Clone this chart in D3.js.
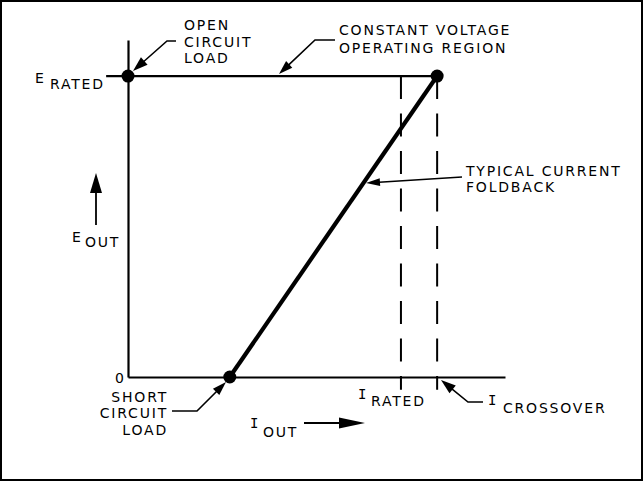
<!DOCTYPE html>
<html>
<head>
<meta charset="utf-8">
<script src="https://cdn.jsdelivr.net/npm/d3@7"></script>
<style>
  body { margin: 0; background: #fff; }
  text { font-family: 'DejaVu Sans', sans-serif; font-size: 14px; letter-spacing: 1.8px; fill: #000; }
  .sym { font-family: 'DejaVu Sans Mono', monospace; letter-spacing: 0; }
</style>
</head>
<body>
<svg id="chart" width="643" height="481"></svg>
<script>
// operating characteristic in arbitrary units (axes run 0..10)
const eRated = 8.93;
const iShort = 2.7;
const iRated = 7.24;
const iCrossover = 8.2;
const ratedLine = [[-0.58, eRated], [iCrossover, eRated]];
const foldback = [[iShort, 0], [iCrossover, eRated]];
const points = [[0, eRated], [iCrossover, eRated], [iShort, 0]];
const dashedAt = [iRated, iCrossover];
const dashedRange = [eRated, -0.38];

const width = 643, height = 481;
const svg = d3.select('#chart');

const x = d3.scaleLinear().domain([0, 10]).range([128, 505]);
const y = d3.scaleLinear().domain([0, 10]).range([377, 40]);
const line = d3.line().x(d => x(d[0])).y(d => y(d[1]));

// frame
svg.append('rect')
  .attr('x', 1).attr('y', 1)
  .attr('width', width - 2).attr('height', height - 2)
  .attr('fill', 'none').attr('stroke', '#000').attr('stroke-width', 2);

// axes, no ticks
svg.append('g')
  .attr('transform', `translate(${x(0)},0)`)
  .call(d3.axisLeft(y).tickValues([]).tickSizeOuter(0))
  .select('.domain').attr('stroke-width', 2.2);
svg.append('g')
  .attr('transform', `translate(0,${y(0)})`)
  .call(d3.axisBottom(x).tickValues([]).tickSizeOuter(0))
  .select('.domain').attr('stroke-width', 2.2);

// constant voltage line
svg.append('path')
  .attr('d', line(ratedLine))
  .attr('fill', 'none').attr('stroke', '#000').attr('stroke-width', 2.2);

// dashed current limits
svg.selectAll('.limit')
  .data(dashedAt)
  .join('path')
  .attr('class', 'limit')
  .attr('d', d => line(dashedRange.map(v => [d, v])))
  .attr('fill', 'none').attr('stroke', '#000').attr('stroke-width', 2)
  .attr('stroke-dasharray', '23,14.5');

// foldback
svg.append('path')
  .attr('d', line(foldback))
  .attr('fill', 'none').attr('stroke', '#000').attr('stroke-width', 4.2);

svg.selectAll('.pt')
  .data(points)
  .join('circle')
  .attr('class', 'pt')
  .attr('cx', d => x(d[0])).attr('cy', d => y(d[1]))
  .attr('r', 6.5).attr('fill', '#000');

// leader with filled arrowhead at the last point
function arrow(pts, len, half, sw) {
  const n = pts.length;
  const [tx, ty] = pts[n - 1];
  const [px, py] = pts[n - 2];
  const d = Math.hypot(tx - px, ty - py);
  const ux = (tx - px) / d, uy = (ty - py) / d;
  const bx = tx - ux * len, by = ty - uy * len;
  svg.append('path')
    .attr('d', d3.line()(pts.slice(0, -1).concat([[bx + ux, by + uy]])))
    .attr('fill', 'none').attr('stroke', '#000').attr('stroke-width', sw);
  svg.append('path')
    .attr('d', d3.line()([[tx, ty], [bx - uy * half, by + ux * half], [bx + uy * half, by - ux * half]]) + 'Z')
    .attr('fill', '#000');
}

arrow([[176, 41], [167, 41], [133, 71]], 15, 5, 1.6);
arrow([[335, 40], [315, 40], [279, 74]], 14, 4.5, 1.6);
arrow([[462, 177], [366, 183]], 14, 4, 1.6);
arrow([[172, 411], [197, 411], [226, 382]], 14, 4.5, 1.6);
arrow([[483, 402], [468, 402], [441, 380]], 15, 5, 1.6);
arrow([[96, 225], [96, 173]], 20, 6, 1.8);
arrow([[304, 423], [365, 423]], 26, 5.5, 1.8);

function text(tx, ty, s, cls, anchor) {
  return svg.append('text')
    .attr('x', tx).attr('y', ty)
    .attr('class', cls || null)
    .attr('text-anchor', anchor || 'start')
    .text(s);
}

// annotations
text(184, 30, 'OPEN');
text(184, 47, 'CIRCUIT');
text(184, 63, 'LOAD');
text(339, 35, 'CONSTANT VOLTAGE');
text(339, 53, 'OPERATING REGION');
text(466, 176, 'TYPICAL CURRENT');
text(466, 192, 'FOLDBACK');
text(168, 402, 'SHORT', null, 'end');
text(168, 418, 'CIRCUIT', null, 'end');
text(168, 435, 'LOAD', null, 'end');

// axis labels
text(35, 83, 'E');
text(50, 89, 'RATED');
text(72, 242, 'E');
text(85, 247, 'OUT');
text(115, 383, '0');
text(250, 428, 'I', 'sym');
text(263, 437, 'OUT');
text(358, 399, 'I', 'sym');
text(371, 406, 'RATED');
text(488, 405, 'I', 'sym');
text(503, 413, 'CROSSOVER');
</script>
</body>
</html>
